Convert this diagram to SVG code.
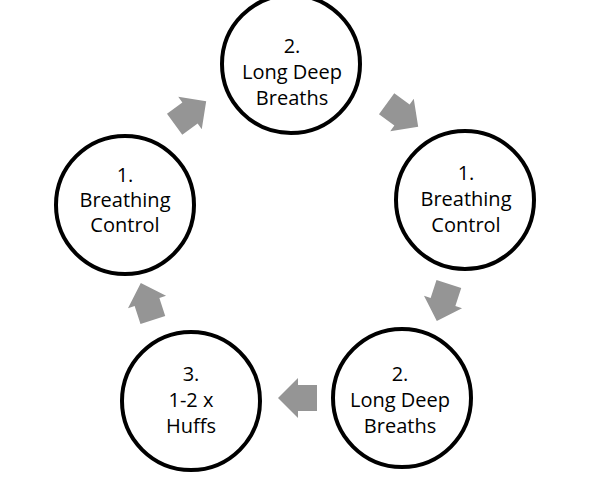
<svg xmlns="http://www.w3.org/2000/svg" width="596" height="489" viewBox="0 0 596 489">
<style>
.ring{fill:#fff;stroke:#000;stroke-width:4}
.lbl{font-family:"Open Sans","Noto Sans","DejaVu Sans",sans-serif;font-size:20px;fill:#000;text-anchor:middle}
.arr{fill:#959595}
</style>
<defs>
<polygon id="blk" points="20,0 0,-20 0,-13 -19,-13 -19,13 0,13 0,20"/>
</defs>
<rect width="596" height="489" fill="#fff"/>
<g id="connectors">
<use href="#blk" class="arr" transform="translate(190,113) rotate(-36)"/>
<use href="#blk" class="arr" transform="translate(402,115) rotate(36)"/>
<use href="#blk" class="arr" transform="translate(443,302) rotate(108)"/>
<use href="#blk" class="arr" transform="translate(298,398) rotate(180)"/>
<use href="#blk" class="arr" transform="translate(147,302) rotate(252)"/>
</g>
<g id="node-top">
<circle class="ring" cx="291" cy="64" r="69"/>
<text class="lbl" x="292" y="53">2.</text>
<text class="lbl" x="292" y="79">Long Deep</text>
<text class="lbl" x="292" y="105">Breaths</text>
</g>
<g id="node-right">
<circle class="ring" cx="465" cy="200" r="69"/>
<text class="lbl" x="466" y="180">1.</text>
<text class="lbl" x="466" y="206">Breathing</text>
<text class="lbl" x="466" y="232">Control</text>
</g>
<g id="node-bottom-right">
<circle class="ring" cx="402" cy="398" r="69"/>
<text class="lbl" x="400" y="381">2.</text>
<text class="lbl" x="400" y="407">Long Deep</text>
<text class="lbl" x="400" y="433">Breaths</text>
</g>
<g id="node-bottom-left">
<circle class="ring" cx="191" cy="401" r="69"/>
<text class="lbl" x="191" y="381">3.</text>
<text class="lbl" x="191" y="407">1-2 x</text>
<text class="lbl" x="191" y="433">Huffs</text>
</g>
<g id="node-left">
<circle class="ring" cx="125" cy="205" r="69"/>
<text class="lbl" x="125" y="182">1.</text>
<text class="lbl" x="125" y="207">Breathing</text>
<text class="lbl" x="125" y="232">Control</text>
</g>
</svg>
